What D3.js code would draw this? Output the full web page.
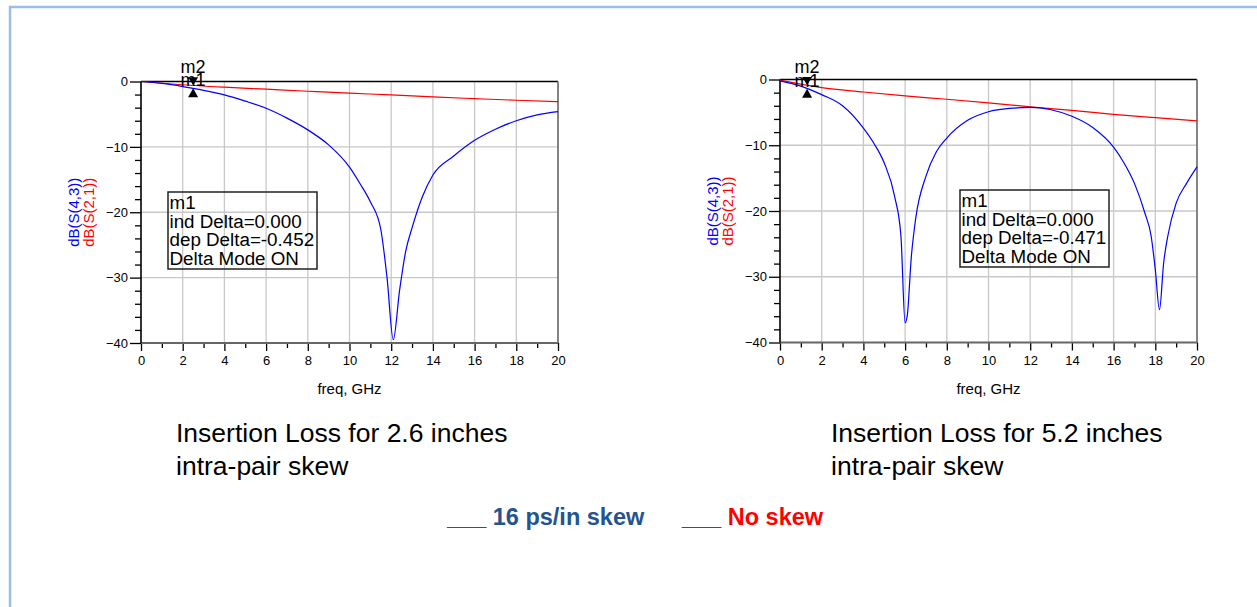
<!DOCTYPE html>
<html>
<head>
<meta charset="utf-8">
<script src="https://cdn.jsdelivr.net/npm/d3@7"></script>
<style>
  body { margin: 0; background: #fff; }
  svg { display: block; font-family: Arial, "Liberation Sans", sans-serif; }
</style>
</head>
<body>
<svg id="chart" width="1257" height="607"></svg>
<script>
// ---- data ----
// red trace, dB(S(2,1)), no skew
const freqRed = [0, 2, 4, 6, 8, 10, 12, 14, 16, 18, 20]
const s21Short = [0, -0.5, -0.87, -1.18, -1.49, -1.79, -2.05, -2.36, -2.62, -2.87, -3.08]
const s21Long = [-0.1, -1.25, -1.9, -2.5, -3.0, -3.55, -4.15, -4.7, -5.3, -5.8, -6.3]

// blue trace, dB(S(4,3)), 16 ps/in skew, 2.6 inches
const freqBlueShort = [0, 1, 2, 2.5, 3, 4, 5, 6, 7, 8, 9, 10, 10.5, 11, 11.5, 11.8, 12.1,
  12.4, 12.7, 13, 13.5, 14, 15, 16, 17, 18, 19, 20]
const s43Short = [0, -0.3, -0.77, -1.05, -1.35, -2.05, -3.0, -4.1, -5.6, -7.4, -9.7, -13.1,
  -15.6, -18.4, -22.6, -30, -39.5, -32, -25.9, -22.4, -17.6, -14.3, -11.4, -9.0, -7.3, -6.0,
  -5.1, -4.6]

// blue trace, 5.2 inches
const freqBlueLong = [0, 1, 2, 3, 4, 4.5, 5, 5.5, 5.8, 6.0, 6.1, 6.3, 6.5, 7, 7.5, 8, 9, 10,
  11, 12, 13, 14, 15, 16, 16.5, 17, 17.5, 17.8, 18.0, 18.2, 18.4, 18.6, 19, 19.5, 20]
const s43Long = [-0.2, -1.0, -2.3, -4.0, -7.4, -9.7, -12.7, -17.8, -23.8, -37, -36, -26.9,
  -21.3, -14.7, -11, -8.9, -6.2, -4.9, -4.4, -4.25, -4.6, -5.6, -7.3, -10.3, -12.7, -15.8,
  -20.3, -23.8, -28.9, -35, -27.9, -23.8, -18.8, -15.8, -13.3]

const markerFreq = [2.5, 1.3]
const markerText = [
  ['m1', 'ind Delta=0.000', 'dep Delta=-0.452', 'Delta Mode ON'],
  ['m1', 'ind Delta=0.000', 'dep Delta=-0.471', 'Delta Mode ON'],
]
const captions = [
  ['Insertion Loss for 2.6 inches', 'intra-pair skew'],
  ['Insertion Loss for 5.2 inches', 'intra-pair skew'],
]
const legendItems = ['16 ps/in skew', 'No skew']

var svg = d3.select('#chart')

// light blue slide frame
svg.append('path')
  .attr('d', 'M10,607V7H1257')
  .attr('fill', 'none')
  .attr('stroke', '#9dbde9')
  .attr('stroke-width', 2.5)

var panels = [
  { left: 141, right: 558, top: 81.5, bottom: 343, boxX: 27, boxY: 110.5,
    red: s21Short, blueF: freqBlueShort, blue: s43Short, capX: 176 },
  { left: 780, right: 1197, top: 79.5, bottom: 342.5, boxX: 180, boxY: 110.5,
    red: s21Long, blueF: freqBlueLong, blue: s43Long, capX: 831 },
]

function interp(xs, ys, v) {
  for (var k = 1; k < xs.length; k++) {
    if (v <= xs[k]) {
      var t = (v - xs[k - 1]) / (xs[k] - xs[k - 1])
      return ys[k - 1] + t * (ys[k] - ys[k - 1])
    }
  }
  return ys[ys.length - 1]
}

panels.forEach(function(p, i) {
  var x = d3.scaleLinear().domain([0, 20]).range([p.left, p.right])
  var y = d3.scaleLinear().domain([-40, 0]).range([p.bottom, p.top])
  var g = svg.append('g')

  // grid
  g.selectAll('.vg').data(d3.range(2, 20, 2)).enter().append('line')
    .attr('x1', d => x(d)).attr('x2', d => x(d))
    .attr('y1', p.top).attr('y2', p.bottom)
    .attr('stroke', '#c8c8c8').attr('stroke-width', 1.3)
  g.selectAll('.hg').data([-10, -20, -30]).enter().append('line')
    .attr('x1', p.left).attr('x2', p.right)
    .attr('y1', d => y(d)).attr('y2', d => y(d))
    .attr('stroke', '#c8c8c8').attr('stroke-width', 1.3)

  // frame
  g.append('line').attr('x1', p.left).attr('x2', p.right)
    .attr('y1', p.top).attr('y2', p.top).attr('stroke', '#000').attr('stroke-width', 1.5)
  g.append('line').attr('x1', p.right).attr('x2', p.right)
    .attr('y1', p.top).attr('y2', p.bottom).attr('stroke', '#777').attr('stroke-width', 1.8)

  // axes
  var xMajor = d3.axisBottom(x).tickValues(d3.range(0, 21, 2)).tickSize(8).tickPadding(5)
  var xMinor = d3.axisBottom(x).tickValues(d3.range(1, 20, 2)).tickSize(5).tickFormat('')
  var yMajor = d3.axisLeft(y).tickValues([0, -10, -20, -30, -40]).tickSize(11).tickPadding(2)
  var yMinor = d3.axisLeft(y).tickValues(d3.range(-38, 0, 2).filter(d => d % 10 !== 0))
    .tickSize(6).tickFormat('')

  ;[xMajor, xMinor].forEach(function(a) {
    var ax = g.append('g').attr('transform', 'translate(0,' + p.bottom + ')').call(a)
    ax.select('.domain').remove()
    ax.selectAll('line').attr('stroke', '#000').attr('stroke-width', 1.3)
    ax.selectAll('text').attr('font-size', 13).attr('fill', '#000')
  })
  ;[yMajor, yMinor].forEach(function(a) {
    var ax = g.append('g').attr('transform', 'translate(' + p.left + ',0)').call(a)
    ax.select('.domain').remove()
    ax.selectAll('line').attr('stroke', '#000').attr('stroke-width', 1.3)
    ax.selectAll('text').attr('font-size', 13).attr('fill', '#000')
  })
  g.append('line').attr('x1', p.left).attr('x2', p.right)
    .attr('y1', p.bottom).attr('y2', p.bottom).attr('stroke', '#666').attr('stroke-width', 2.2)
  g.append('line').attr('x1', p.left).attr('x2', p.left)
    .attr('y1', p.top).attr('y2', p.bottom).attr('stroke', '#000').attr('stroke-width', 1.6)

  g.append('text')
    .attr('x', (p.left + p.right) / 2).attr('y', 394)
    .attr('text-anchor', 'middle').attr('font-size', 15)
    .text('freq, GHz')

  var midY = (p.top + p.bottom) / 2
  g.append('text')
    .attr('transform', 'translate(' + (p.left - 68) + ',' + midY + ') rotate(-90)')
    .attr('text-anchor', 'middle').attr('dominant-baseline', 'central')
    .attr('font-size', 15).attr('fill', '#0000ff')
    .text('dB(S(4,3))')
  g.append('text')
    .attr('transform', 'translate(' + (p.left - 53) + ',' + midY + ') rotate(-90)')
    .attr('text-anchor', 'middle').attr('dominant-baseline', 'central')
    .attr('font-size', 15).attr('fill', '#ff0000')
    .text('dB(S(2,1))')

  // traces
  var line = d3.line().curve(d3.curveMonotoneX)
  g.append('path')
    .attr('d', line(freqRed.map((f, k) => [x(f), y(p.red[k])])))
    .attr('fill', 'none').attr('stroke', '#ff0000').attr('stroke-width', 1.2)
  g.append('path')
    .attr('d', line(p.blueF.map((f, k) => [x(f), y(p.blue[k])])))
    .attr('fill', 'none').attr('stroke', '#0000ff').attr('stroke-width', 1.2)

  // markers m1 (blue) and m2 (red)
  var mf = markerFreq[i]
  var mx = x(mf)
  var yr = y(interp(freqRed, p.red, mf))
  var yb = y(interp(p.blueF, p.blue, mf))
  g.append('text').attr('x', mx).attr('y', yr - 12)
    .attr('text-anchor', 'middle').attr('font-size', 18).text('m2')
  g.append('text').attr('x', mx).attr('y', yb - 2)
    .attr('text-anchor', 'middle').attr('font-size', 18).text('m1')
  g.append('path')
    .attr('d', 'M' + (mx - 5) + ',' + (yr - 8) + 'L' + (mx + 5) + ',' + (yr - 8) + 'L' + mx + ',' + yr + 'Z')
    .attr('fill', '#000')
  g.append('path')
    .attr('d', 'M' + (mx - 5) + ',' + (yb + 9) + 'L' + (mx + 5) + ',' + (yb + 9) + 'L' + mx + ',' + yb + 'Z')
    .attr('fill', '#000')

  // readout box
  var bx = p.left + p.boxX, by = p.top + p.boxY
  g.append('rect').attr('x', bx).attr('y', by).attr('width', 149).attr('height', 77)
    .attr('fill', 'none').attr('stroke', '#222').attr('stroke-width', 1.5)
  g.selectAll('.bt').data(markerText[i]).enter().append('text')
    .attr('x', bx + 1.5).attr('y', (d, k) => by + 17 + k * 18.5)
    .attr('font-size', 18.8).text(d => d)

  // caption
  g.selectAll('.cap').data(captions[i]).enter().append('text')
    .attr('x', p.capX).attr('y', (d, k) => 442 + k * 33)
    .attr('font-size', 26.5).text(d => d)
})

// legend
var legendColors = ['#25538f', '#ff0000']
var legendX = [447, 682]
legendItems.forEach(function(t, i) {
  svg.append('text')
    .attr('x', legendX[i]).attr('y', 525)
    .attr('font-size', 23.5).attr('font-weight', 'bold')
    .attr('fill', legendColors[i])
    .text('___ ' + t)
})
</script>
</body>
</html>
